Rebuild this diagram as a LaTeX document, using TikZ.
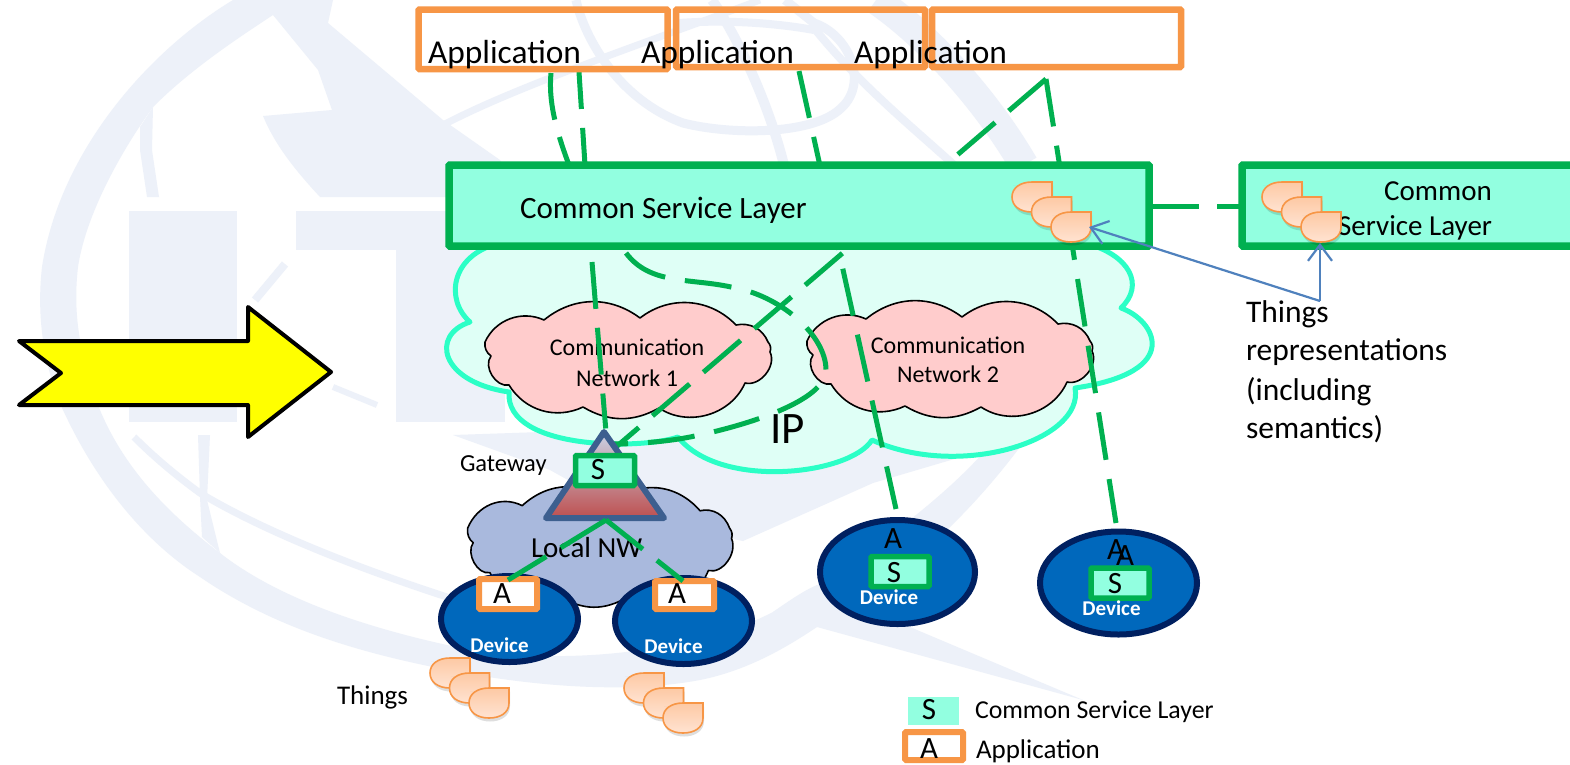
\documentclass[tikz,border=0pt]{standalone}
\usepackage{fontspec}
\setmainfont{Carlito}
\usetikzlibrary{arrows.meta,calc,shapes.geometric}
\definecolor{wm}{HTML}{EDF1F9}
\definecolor{appor}{HTML}{F79646}
\definecolor{csl}{HTML}{92FFE0}
\definecolor{cslg}{HTML}{00B050}
\definecolor{ipline}{HTML}{2BFFC6}
\definecolor{ipfill}{HTML}{DFFFF6}
\definecolor{nwpink}{HTML}{FFCCCC}
\definecolor{localnw}{HTML}{A9B9DD}
\definecolor{devfill}{HTML}{0068BC}
\definecolor{devline}{HTML}{002060}
\definecolor{arrowblue}{HTML}{4F81BD}
\definecolor{gwline}{HTML}{3D5F8F}
\definecolor{droptop}{HTML}{FDC9A4}
\definecolor{dropbot}{HTML}{FFE3D2}
\definecolor{gwtop}{HTML}{C9D3E6}
\definecolor{gwbot}{HTML}{BE5050}
\definecolor{arrowyellow}{HTML}{FFFF00}
\tikzset{
  lbl/.style={inner sep=0pt,outer sep=0pt,font=\fontsize{#1}{#1}\selectfont},
  devlbl/.style={inner sep=0pt,outer sep=0pt,text=white,font=\fontsize{21}{21}\selectfont\bfseries},
  appbox/.style={draw=appor,line width=6.5pt,rounded corners=1pt},
  aminibox/.style={draw=appor,fill=white,line width=6pt,rounded corners=1pt},
  cslbox/.style={draw=cslg,fill=csl,line width=7.5pt,rounded corners=1pt},
  sminibox/.style={draw=cslg,fill=csl,line width=5.5pt,rounded corners=1pt},
  device/.style={draw=devline,fill=devfill,line width=6pt,shape=ellipse},
  conn/.style={draw=cslg,line width=5pt},
  repr/.style={draw=arrowblue,line width=2.2pt,-{Straight Barb[length=16pt,width=24pt]}},
  wmfill/.style={fill=wm,draw=none},
  wmline/.style={draw=wm,line width=8pt},
  drop/.pic={
    \fill[black,opacity=.13] (1,3.5) -- (41,3.5) -- (41,18) .. controls (41,28) and (32,33.5) .. (21,33.5) .. controls (9,33.5) and (1,27) .. (1,18) .. controls (1,9) and (9,3.5) .. (21,3.5) -- cycle;
    \draw[appor,line width=1.6pt,top color=droptop,bottom color=dropbot] (20,0) -- (40,0) -- (40,15) .. controls (40,25) and (31,30) .. (20,30) .. controls (8,30) and (0,24) .. (0,15) .. controls (0,6) and (8,0) .. (20,0) -- cycle;
  }
}
\newcommand{\thingset}[1]{%
  \pic at ($(#1)$) {drop};
  \pic at ($(#1)+(19.5,15)$) {drop};
  \pic at ($(#1)+(39,30)$) {drop};
}
\newcommand{\nwcloud}[1]{%
  \draw[black,line width=1.6pt,fill=#1,line join=round]
   (544,320) to[bend left=38] (640,318) to[bend left=42] (736,325)
   to[bend left=40] (768,342) to[bend left=30] (770,352) to[bend left=65] (745,383)
   to[bend left=50] (659,408) to[bend left=30] (583,407)
   to[bend left=42] (509,385) to[bend left=70] (491,356)
   to[bend left=30] (485,342) to[bend left=45] cycle;
}
\begin{document}
\begin{tikzpicture}[x=1pt,y=-1pt]
\useasboundingbox (0,0) rectangle (1570,764);
\clip (0,0) rectangle (1570,764);
\fill[white] (0,0) rectangle (1570,764);
% watermark
\fill[wm]
  (233,0) .. controls (150,50) and (60,150) .. (42,267) .. controls (36,320) and (45,370) .. (63,410)
  .. controls (100,490) and (150,545) .. (200,577) .. controls (270,625) and (350,650) .. (433,667)
  .. controls (520,685) and (620,695) .. (700,680) .. controls (750,670) and (790,645) .. (817,627)
  .. controls (880,590) and (950,540) .. (1020,447) -- (983,453)
  .. controls (950,490) and (880,550) .. (773,612) .. controls (700,650) and (560,670) .. (447,645)
  .. controls (370,628) and (280,600) .. (220,553) .. controls (170,515) and (125,470) .. (100,410)
  .. controls (82,360) and (72,320) .. (78,267) .. controls (85,220) and (115,160) .. (153,107)
  .. controls (190,70) and (235,40) .. (273,15) -- (318,70) -- (332,110) -- (263,116)
  .. controls (275,145) and (295,170) .. (320,197) -- (520,197) -- (500,160) -- (453,127) -- (443,120)
  -- (328,23) -- (333,0) -- cycle;
\fill[wmfill] (129,211) rectangle (237,422);
\fill[wmfill] (296,211) rectangle (604,250);
\fill[wmfill] (396,250) rectangle (505,422);
\fill[wmfill] (140,127) -- (153,107) -- (152,150) -- (159,197) -- (147,197) -- (140,150) -- cycle;
\fill[wmfill] (198,435) -- (210,435) -- (207,500) -- (220,553) -- (202,537) -- (200,497) -- cycle;
\draw[wmline] (255,300) -- (285,264);
\draw[wmline,line width=6pt] (333,387) -- (377,405);
\draw[wmline,line width=7pt] (134,437) .. controls (155,458) and (178,477) .. (200,493) .. controls (270,535) and (370,572) .. (447,597);
\draw[wmline,line width=7pt] (445,124) .. controls (520,85) and (640,45) .. (760,0);
\draw[wmline,line width=9pt] (576,0) .. controls (585,40) and (620,100) .. (683,123) .. controls (730,135) and (810,135) .. (839,110) .. controls (870,85) and (850,35) .. (814,23) -- (785,0);
\draw[wmline] (679,23) .. controls (720,20) and (770,22) .. (814,30);
\draw[wmline,line width=10pt] (712,0) .. controls (730,25) and (765,90) .. (784,165);
\draw[wmline] (814,28) .. controls (860,85) and (910,125) .. (954,165);
\draw[wm,line width=29pt] (876,0) .. controls (920,30) and (980,90) .. (1024,165);
\fill[wmfill] (453,435) -- (550,470) -- (640,520) -- (743,541) -- (873,483) -- (978,452) -- (1000,430) -- (600,430) -- cycle;
\fill[wmfill] (773,612) .. controls (790,600) and (805,590) .. (817,585) -- (917,630) -- (1083,700) -- (817,627) -- cycle;
% IP cloud
\draw[ipline,fill=ipfill,line width=5pt,line join=round]
  (470,322) .. controls (445,300) and (450,255) .. (500,243) -- (1085,243)
  .. controls (1130,255) and (1145,285) .. (1121,308) .. controls (1155,320) and (1185,372) .. (1075,388)
  .. controls (1085,440) and (960,480) .. (872,440) .. controls (850,475) and (720,490) .. (678,437)
  .. controls (640,450) and (505,450) .. (509,392) .. controls (440,382) and (430,335) .. (470,322) -- cycle;
% networks
\nwcloud{nwpink}
\begin{scope}[shift={(322,-1)}]\nwcloud{nwpink}\end{scope}
\node[lbl=24,anchor=base] (n1a) at (627,355) {Communication};
\node[lbl=24,anchor=base] (n1b) at (627,386) {Network 1};
\node[lbl=24,anchor=base] (n2a) at (948,353) {Communication};
\node[lbl=24,anchor=base] (n2b) at (948,382) {Network 2};
\node[lbl=45,anchor=base west] (ip) at (770,443) {IP};
% local cloud
\begin{scope}[shift={(18.5,176)},xscale=.926,yscale=1.03]\nwcloud{localnw}\end{scope}
\node[lbl=29,anchor=base west] (lnw) at (531,557) {Local NW};
% devices
\node[device,minimum width=137pt,minimum height=86pt,inner sep=0pt] (d1) at (509.5,619) {};
\node[device,minimum width=137pt,minimum height=86pt,inner sep=0pt] (d2) at (683.5,621) {};
\node[device,minimum width=155pt,minimum height=104pt,inner sep=0pt] (d3) at (897.5,572) {};
\node[device,minimum width=157pt,minimum height=103pt,inner sep=0pt] (d4) at (1118.5,583) {};
\node[aminibox,minimum width=58pt,minimum height=30pt,inner sep=0pt] (a1) at (508,594) {};
\node[aminibox,minimum width=59pt,minimum height=28pt,inner sep=0pt] (a2) at (684.5,595) {};
\node[sminibox,minimum width=58pt,minimum height=30pt,inner sep=0pt] (s3) at (900,571.5) {};
\node[sminibox,minimum width=58pt,minimum height=30pt,inner sep=0pt] (s4) at (1120,583) {};
\node[lbl=31,anchor=base] (a1t) at (502,603) {A};
\node[lbl=31,anchor=base] (a2t) at (677,603) {A};
\node[lbl=31,anchor=base] (a3t) at (893,548) {A};
\node[lbl=31,anchor=base] (a4t) at (1116,559) {A};
\node[lbl=31,anchor=base] (a5t) at (1125,565) {A};
\node[lbl=31,anchor=base] (s3t) at (894,582) {S};
\node[lbl=31,anchor=base] (s4t) at (1115,593) {S};
\node[devlbl,anchor=base] (d1t) at (499.5,652) {Device};
\node[devlbl,anchor=base] (d2t) at (673.5,653) {Device};
\node[devlbl,anchor=base] (d3t) at (889,604) {Device};
\node[devlbl,anchor=base] (d4t) at (1111.5,615) {Device};
% connector ends
\coordinate (p1a) at (551,73);
\coordinate (p1b) at (569,165);
\coordinate (p1c) at (592,262);
\coordinate (gwa) at (606,432);
\coordinate (p2a) at (579,72);
\coordinate (p2b) at (585,165);
\coordinate (p3a) at (799,71);
\coordinate (p3b) at (896,509);
\coordinate (peak) at (1046,79);
\coordinate (p4b) at (1116,523);
\coordinate (gwb) at (616,447);
\coordinate (gwc) at (612,444);
\coordinate (cva) at (626,253);
\coordinate (cvb) at (731,287);
\coordinate (cvc) at (826,370);
\coordinate (cvd) at (690,437);
\coordinate (gwbase) at (606,520);
\coordinate (a1top) at (508,580);
\coordinate (a2top) at (683,581);
\coordinate (lay) at (1150,206);
\coordinate (lay2) at (1240,206);
% connectors under the layer box
\draw[conn,dash pattern=on 47pt off 18pt on 47pt off 100pt] (p1a) .. controls (549,95) and (552,120) .. (p1b);
\draw[conn,dash pattern=on 47pt off 19pt on 47pt off 19pt on 35pt] (p1c) -- (gwa);
\draw[conn,dash pattern=on 37pt off 19pt on 60pt] (p2a) -- (p2b);
\draw[conn,dash pattern=on 48pt off 19.5pt] (p3a) -- (p3b);
\draw[conn,dash pattern=on 48pt off 19.5pt] (peak) -- (p4b);
\draw[conn,dash pattern=on 49pt off 18pt] (peak) -- (gwb);
\draw[conn,dash pattern=on 47pt off 20pt] (cva) .. controls (650,285) and (690,278) .. (cvb) .. controls (780,295) and (826,335) .. (cvc) .. controls (826,400) and (750,425) .. (cvd) .. controls (670,441) and (640,444) .. (gwc);
% gateway
\draw[gwline,line width=6pt,line join=round,top color=gwtop,bottom color=gwbot] (604,432) -- (664,518) -- (546,518) -- cycle;
\node[sminibox,minimum width=59pt,minimum height=30pt,inner sep=0pt] (sg) at (605,470.5) {};
\node[lbl=31,anchor=base] (sgt) at (598,479) {S};
\node[lbl=24.5,anchor=base west] (gw) at (460,471) {Gateway};
\draw[conn,dash pattern=on 53pt off 17pt] (gwbase) -- (a1top);
\draw[conn,dash pattern=on 47pt off 18pt] (gwbase) -- (a2top);
% application boxes
\draw[appbox] (418.5,9.5) rectangle (667.5,69);
\draw[appbox] (676,9.5) rectangle (925,67);
\draw[appbox] (932,9.5) rectangle (1181,67);
\node[lbl=33.4,anchor=base west] (t1) at (428,63) {Application};
\node[lbl=33.4,anchor=base west] (t2) at (641,63) {Application};
\node[lbl=33.4,anchor=base west] (t3) at (854,63) {Application};
% layer boxes
\draw[conn,dash pattern=on 49pt off 18pt] (lay) -- (lay2);
\draw[cslbox] (449,165) rectangle (1149,246);
\draw[cslbox] (1242,165) rectangle (1590,246);
\node[lbl=31,anchor=base west] (clt) at (520,218) {Common Service Layer};
\node[lbl=29,anchor=base] (cr1) at (1438,200) {Common};
\node[lbl=29,anchor=base east] (cr2) at (1492,235) {Service Layer};
% things
\thingset{1012,182}
\thingset{1262,182}
\thingset{430,658}
\thingset{624,673}
\coordinate (rp) at (1320,301);
\coordinate (th1) at (1089,227);
\coordinate (th2) at (1320,243);
\draw[repr] (rp) -- (th1);
\draw[repr] (rp) -- (th2);
\node[lbl=31.5,anchor=base west] (tr1) at (1246,322) {Things};
\node[lbl=31.5,anchor=base west] (tr2) at (1246,360) {representations};
\node[lbl=31.5,anchor=base west] (tr3) at (1246,400) {(including};
\node[lbl=31.5,anchor=base west] (tr4) at (1246,438) {semantics)};
\node[lbl=27,anchor=base west] (thg) at (337,704) {Things};
% legend
\node[fill=csl,minimum width=51pt,minimum height=28pt,inner sep=0pt] (ls) at (933.5,711) {};
\node[lbl=31,anchor=base] (lst) at (929,719) {S};
\node[lbl=25.8,anchor=base west] (lsl) at (975,718) {Common Service Layer};
\node[aminibox,minimum width=58pt,minimum height=28pt,inner sep=0pt] (la) at (934,746) {};
\node[lbl=31,anchor=base] (lat) at (929,758) {A};
\node[lbl=27,anchor=base west] (lal) at (976,758) {Application};
% yellow arrow
\draw[black,fill=arrowyellow,line width=4pt,line join=round] (19,341) -- (248,341) -- (248,307) -- (331,372) -- (248,437) -- (248,405) -- (19,405) -- (61,373) -- cycle;
\end{tikzpicture}
\end{document}
